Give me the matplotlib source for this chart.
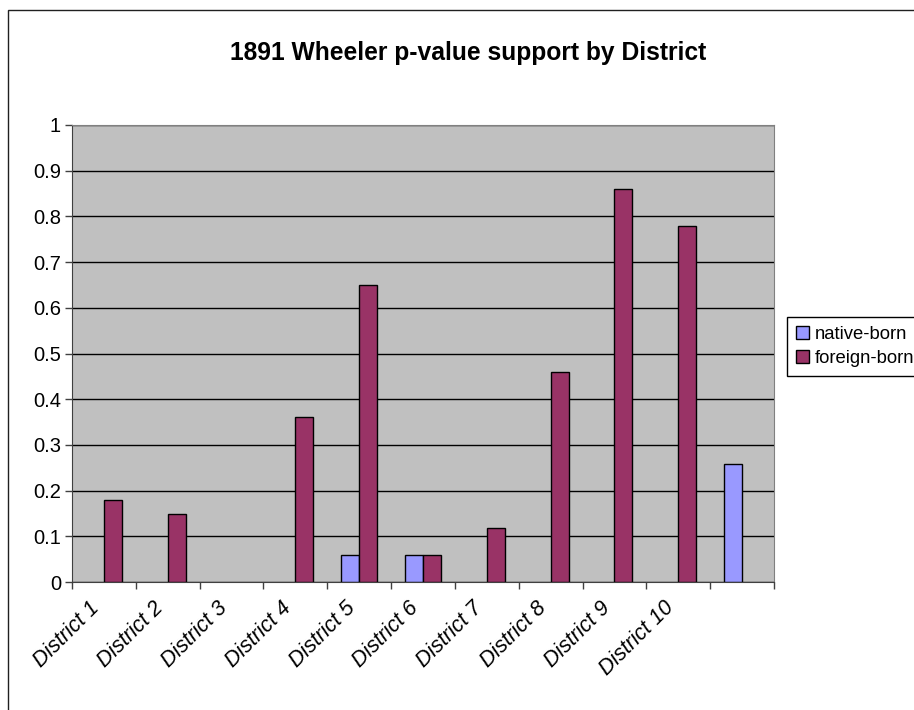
import numpy as np
import matplotlib.pyplot as plt
from matplotlib.patches import Rectangle, Patch

plt.rcParams['font.family'] = ['Liberation Sans', 'DejaVu Sans']

# data (11th slot has no label)
districts = ['District 1', 'District 2', 'District 3', 'District 4', 'District 5',
             'District 6', 'District 7', 'District 8', 'District 9', 'District 10', '']
native_born = [0, 0, 0, 0, 0.06, 0.06, 0, 0, 0, 0, 0.258]
foreign_born = [0.18, 0.148, 0, 0.36, 0.65, 0.06, 0.118, 0.46, 0.86, 0.778, 0]
yticks = [0, 0.1, 0.2, 0.3, 0.4, 0.5, 0.6, 0.7, 0.8, 0.9, 1]
ytick_labels = ['0', '0.1', '0.2', '0.3', '0.4', '0.5', '0.6', '0.7', '0.8', '0.9', '1']
c_native = '#9999FF'
c_foreign = '#993366'

fig = plt.figure(figsize=(9.14, 7.10), dpi=100)
ax = fig.add_axes([72/914, 1-582/710, 702/914, 457/710])

x = np.arange(len(districts))
w = 0.28
b1 = ax.bar(x - w/2, native_born, w, color=c_native, edgecolor='black', linewidth=1)
b2 = ax.bar(x + w/2, foreign_born, w, color=c_foreign, edgecolor='black', linewidth=1)
# empty values are not drawn at all
for p in list(b1) + list(b2):
    if p.get_height() == 0:
        p.set_visible(False)

ax.set_facecolor('#C0C0C0')
ax.set_xlim(-0.5, len(districts) - 0.5)
ax.set_ylim(0, 1)
ax.set_axisbelow(True)
ax.yaxis.grid(True, color='black', linewidth=1)

ax.set_yticks(yticks)
ax.set_yticklabels(ytick_labels, fontsize=14.5)
ax.tick_params(axis='y', length=5, width=1, color='#404040', pad=3)

# labels at category centres, tick marks at boundaries
ax.set_xticks(x)
ax.set_xticklabels(districts, rotation=45, ha='right', va='top', fontsize=15.5, style='italic')
ax.tick_params(axis='x', which='major', length=0, pad=11)
ax.set_xticks(np.arange(-0.5, len(districts)), minor=True)
ax.tick_params(axis='x', which='minor', length=5, width=1, color='#404040')

for s in ['left', 'bottom']:
    ax.spines[s].set_color('#404040')
for s in ['top', 'right']:
    ax.spines[s].set_color('#808080')

fig.text(468/914, 1 - 53/710, '1891 Wheeler p-value support by District',
         ha='center', va='center', fontsize=17.7, fontweight='bold')

# outer chart frame (runs off the right/bottom edge like the original)
fig.patches.append(Rectangle((8/914, -0.1), 1.2, 1.1 - 10/710, transform=fig.transFigure,
                             fill=False, edgecolor='#202020', linewidth=1))

handles = [Patch(facecolor=c_native, edgecolor='black', linewidth=1, label='native-born'),
           Patch(facecolor=c_foreign, edgecolor='black', linewidth=1, label='foreign-born')]
leg = fig.legend(handles=handles, loc='upper left', bbox_to_anchor=(787/914, 1 - 317/710),
                 fontsize=13.3, frameon=True, fancybox=False, edgecolor='black', framealpha=1,
                 handlelength=0.7, handleheight=0.7, handletextpad=0.3,
                 labelspacing=0.35, borderpad=0.5, borderaxespad=0)
leg.get_frame().set_linewidth(1)

plt.savefig('out.png', dpi=100)
